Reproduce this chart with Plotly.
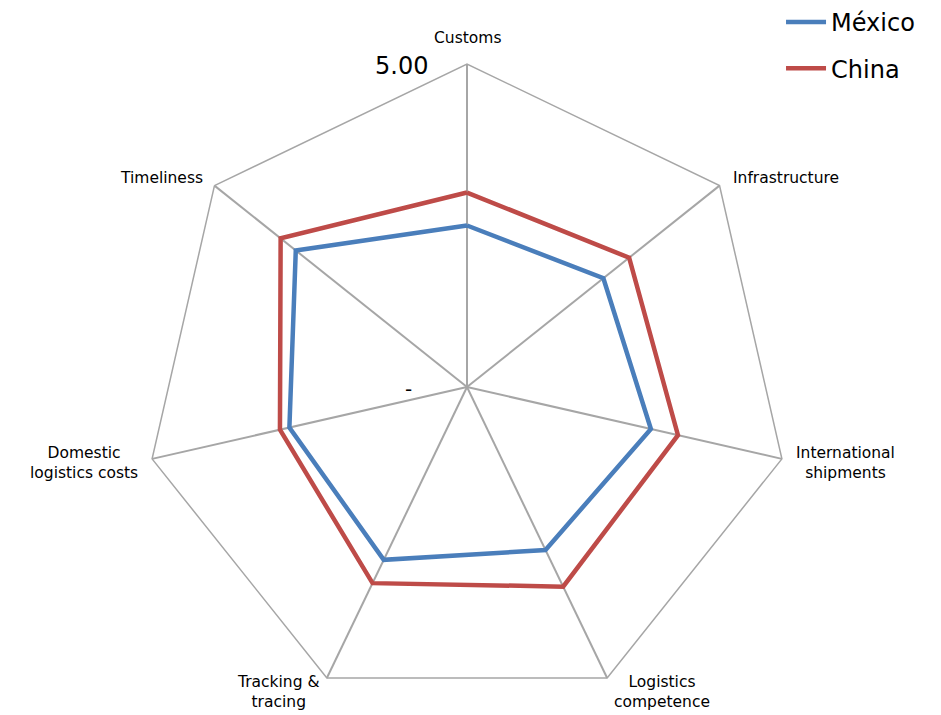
import math
import plotly.graph_objects as go

# Logistics Performance Index dimensions (score 0-5)
categories = [
    "Customs",
    "Infrastructure",
    "International<br>shipments",
    "Logistics<br>competence",
    "Tracking &<br>tracing",
    "Domestic<br>logistics costs",
    "Timeliness",
]
mexico = [2.50, 2.70, 2.92, 2.80, 2.97, 2.82, 3.39]
china = [3.01, 3.21, 3.35, 3.43, 3.37, 2.97, 3.69]

radial_max = 5
radial_ticks = [0, 5]
radial_ticklabels = ["-", "5.00"]

series = [("México", mexico, "#4a7ebb"), ("China", china, "#be4b48")]
FONT = "'DejaVu Sans', Verdana, sans-serif"

fig = go.Figure()
for name, vals, color in series:
    fig.add_trace(go.Scatterpolar(
        r=vals + vals[:1],
        theta=categories + categories[:1],
        mode="lines",
        name=name,
        legendgroup=name,
        line=dict(color=color, width=4.5),
    ))

W, H = 941, 715
cx, cy, R = 467, 387, 323


def to_paper(px, py):
    return px / W, 1 - py / H


def spoke_point(i, r):
    ang = math.radians(90 - i * 360 / len(categories))
    return cx + R * r / radial_max * math.cos(ang), cy - R * r / radial_max * math.sin(ang)


# category labels placed around the outer vertices
label_style = [
    # (xanchor, yanchor, dx, dy)
    ("center", "middle", 0, -26),
    ("left", "middle", 11, -8),
    ("left", "middle", 12, 4),
    ("left", "middle", 5, 14),
    ("right", "middle", -5, 14),
    ("right", "middle", -12, 4),
    ("right", "middle", -9, -8),
]
annotations = []
for i, (cat, (xa, ya, dx, dy)) in enumerate(zip(categories, label_style)):
    vx, vy = spoke_point(i, radial_max)
    px, py = to_paper(vx + dx, vy + dy)
    annotations.append(dict(
        x=px, y=py, xref="paper", yref="paper",
        text=cat.replace("<br>", "<br>"), showarrow=False,
        xanchor=xa, yanchor=ya, align="center",
        font=dict(family=FONT, size=15.5, color="black"),
    ))

# radial value labels along the first spoke
for val, txt in zip(radial_ticks, radial_ticklabels):
    vx, vy = spoke_point(0, val)
    dx = -37 if val else -53
    px, py = to_paper(vx + dx, vy + 2)
    annotations.append(dict(
        x=px, y=py, xref="paper", yref="paper", text=txt, showarrow=False,
        xanchor="right", yanchor="middle",
        font=dict(family=FONT, size=24 if val else 20, color="black"),
    ))

fig.update_layout(
    width=W, height=H,
    margin=dict(l=0, r=0, t=0, b=0),
    paper_bgcolor="white",
    plot_bgcolor="white",
    font=dict(family=FONT, color="black"),
    polar=dict(
        domain=dict(x=[(cx - R) / W, (cx + R) / W],
                    y=[(H - cy - R) / H, (H - cy + R) / H]),
        bgcolor="white",
        gridshape="linear",
        angularaxis=dict(
            direction="clockwise",
            rotation=90,
            showline=True,
            linecolor="#a6a6a6",
            linewidth=1.5,
            gridcolor="#a6a6a6",
            gridwidth=1.5,
            ticks="",
            showticklabels=False,
        ),
        radialaxis=dict(
            range=[0, radial_max],
            angle=90,
            tickvals=radial_ticks,
            showline=False,
            showgrid=False,
            ticks="",
            showticklabels=False,
        ),
    ),
    annotations=annotations,
    showlegend=True,
    legend=dict(
        x=0.83, y=1.0, xanchor="left", yanchor="top",
        font=dict(family=FONT, size=24, color="black"),
        tracegroupgap=12,
        bgcolor="rgba(0,0,0,0)",
        itemwidth=40,
    ),
)

fig.write_html("out.html")
